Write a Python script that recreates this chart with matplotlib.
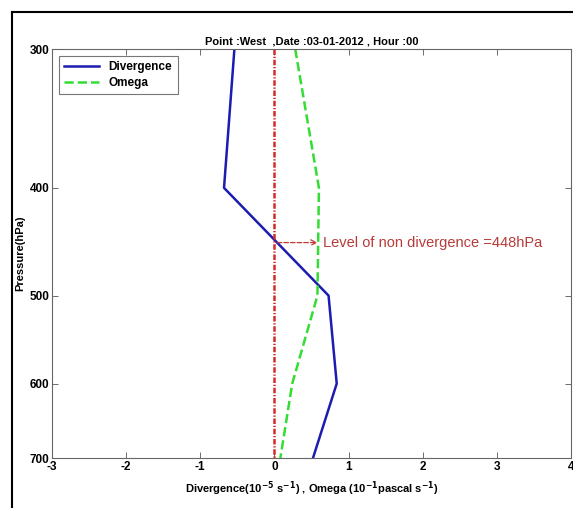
import matplotlib
matplotlib.use('Agg')
import matplotlib.pyplot as plt
from matplotlib.lines import Line2D
from matplotlib.ticker import FixedLocator, FixedFormatter, NullLocator

# Values
pressure = [300, 400, 500, 600, 700]
divergence = [-0.54, -0.68, 0.73, 0.84, 0.52]
omega = [0.28, 0.60, 0.58, 0.24, 0.08]
non_div_level = 448
x_ticks = [-3, -2, -1, 0, 1, 2, 3, 4]
y_ticks = [300, 400, 500, 600, 700]

plt.rcParams['font.family'] = ['Liberation Sans', 'DejaVu Sans']
plt.rcParams['mathtext.default'] = 'bf'
plt.rcParams['axes.unicode_minus'] = False

fig = plt.figure(figsize=(5.73, 5.08), dpi=100)
ax = fig.add_axes([0.0908, 0.0984, 0.9057, 0.8051])

ax.plot(divergence, pressure, color='#1c1cb0', linewidth=1.8, label='Divergence')
ax.plot(omega, pressure, color='#33dd33', linewidth=1.8, linestyle='--', label='Omega')
ax.plot([0, 0], [y_ticks[0], y_ticks[-1]], color='#d42a2a', linewidth=1.8,
        linestyle=(0, (2.2, 0.7, 0.5, 0.7)))

ax.annotate('', xy=(0.62, non_div_level), xytext=(0, non_div_level),
            arrowprops=dict(arrowstyle='->', color='#c03838', linestyle='--', linewidth=0.9))
ax.text(0.66, non_div_level, 'Level of non divergence =448hPa', color='#b83a3a',
        fontsize=10.5, va='center', ha='left')

ax.set_yscale('log')
ax.set_ylim(700, 300)
ax.set_xlim(-3, 4)
ax.yaxis.set_major_locator(FixedLocator(y_ticks))
ax.yaxis.set_major_formatter(FixedFormatter([str(v) for v in y_ticks]))
ax.yaxis.set_minor_locator(NullLocator())
ax.set_xticks(x_ticks)

ax.tick_params(direction='in', top=True, right=True, length=4, width=0.6,
               labelsize=8.5, color='#555555', pad=2)
for lbl in ax.get_xticklabels() + ax.get_yticklabels():
    lbl.set_fontweight('bold')
for sp in ax.spines.values():
    sp.set_color('#666666')
    sp.set_linewidth(0.8)

ax.set_title('Point :West  ,Date :03-01-2012 , Hour :00', fontsize=8, fontweight='bold', pad=3)
ax.set_xlabel(r'Divergence(10$^{-5}$ s$^{-1}$) , Omega (10$^{-1}$pascal s$^{-1}$)',
              fontsize=8, fontweight='bold', labelpad=5)
ax.set_ylabel('Pressure(hPa)', fontsize=8, fontweight='bold', labelpad=3)

leg = ax.legend(loc='upper left', frameon=True, fancybox=False,
                borderaxespad=0.55, handlelength=3.0, labelspacing=0.35,
                borderpad=0.45, prop={'weight': 'bold', 'size': 8.5})
leg.get_frame().set_edgecolor('#555555')
leg.get_frame().set_linewidth(0.8)

# document frame around the figure
fig.add_artist(Line2D([12 / 573, 12 / 573], [0, 1 - 12 / 508], transform=fig.transFigure,
                      color='black', linewidth=1.5))
fig.add_artist(Line2D([12 / 573, 1], [1 - 12 / 508, 1 - 12 / 508], transform=fig.transFigure,
                      color='black', linewidth=1.5))

fig.savefig('out.png', dpi=100)
